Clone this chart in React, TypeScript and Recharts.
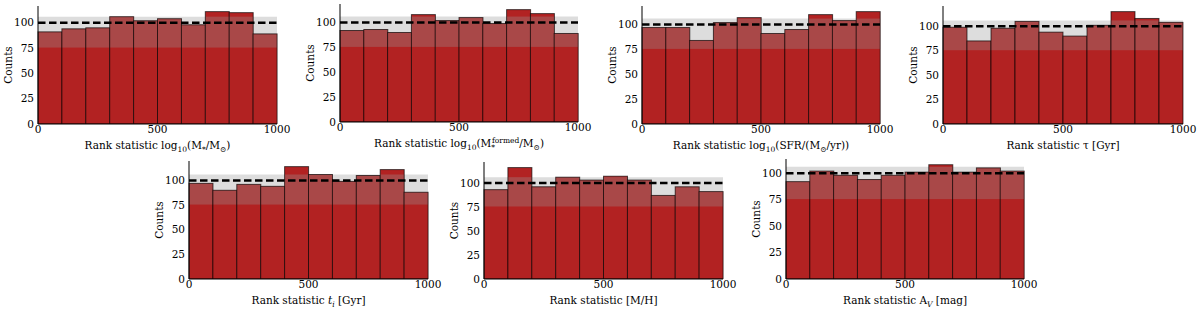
import React from 'react';
import { BarChart, Bar, XAxis, YAxis, ReferenceArea, ReferenceLine } from 'recharts';

// rank statistic bins (10 bins of width 100)
const binStarts = [0, 100, 200, 300, 400, 500, 600, 700, 800, 900];
const xTicks = [0, 500, 1000];
const yTicks = [0, 25, 50, 75, 100];

// counts per bin, one array per parameter
const massCounts = [91, 94, 95, 106, 102, 104, 98, 111, 110, 89];
const massFormedCounts = [92, 93, 90, 108, 102, 105, 99, 113, 109, 89];
const sfrCounts = [97, 97, 84, 102, 107, 91, 95, 110, 104, 113];
const tauCounts = [99, 85, 98, 105, 94, 90, 101, 115, 108, 104];
const tiCounts = [97, 90, 96, 94, 114, 106, 99, 105, 111, 88];
const metalCounts = [93, 116, 96, 106, 103, 107, 103, 87, 96, 91];
const avCounts = [92, 102, 98, 94, 98, 101, 108, 101, 105, 102];

// expected count and the grey spread band
const expected = 100;
const bandLow = 75.5;
const bandHigh = 106;

const FONT = '"DejaVu Serif", serif';
const FS = 10.5;
const YW = 40;
const MT = 2;
const MR = 14;
const XH = 32;
const BAND_FILL = '#999999';
const BAND_ALPHA = 0.33;

type Part = { t: string; s?: 'sub' | 'sup'; i?: boolean; dx?: number };

const XLabel = ({ viewBox, parts }: any) => {
  if (!viewBox) return null;
  const cx = viewBox.x + viewBox.width / 2;
  const y = viewBox.y + 25;
  let prev = 0;
  return (
    <text x={cx} y={y} textAnchor="middle" fontFamily={FONT} fontSize={FS} fill="#000">
      {parts.map((p: Part, k: number) => {
        const shift = p.s === 'sub' ? 3 : p.s === 'sup' ? -4.5 : 0;
        const dy = shift - prev;
        prev = shift;
        return (
          <tspan
            key={k}
            dy={dy}
            dx={p.dx || 0}
            fontSize={p.s ? 7.5 : FS}
            fontStyle={p.i ? 'italic' : 'normal'}
          >
            {p.t}
          </tspan>
        );
      })}
    </text>
  );
};

const YLabel = ({ viewBox }: any) => {
  if (!viewBox) return null;
  const cx = viewBox.x + 10;
  const cy = viewBox.y + viewBox.height / 2;
  return (
    <text
      transform={`translate(${cx},${cy}) rotate(-90)`}
      textAnchor="middle"
      dominantBaseline="central"
      fontFamily={FONT}
      fontSize={FS}
      fill="#000"
    >
      Counts
    </text>
  );
};

// bar with the grey band laid over it (band sits above the bars in the original)
const BandBar = (props: any) => {
  const { x, y, width, height, payload } = props;
  if (!height || height <= 0) return null;
  const count = payload.count;
  const perUnit = height / count;
  const base = y + height;
  const top = Math.max(y, base - bandHigh * perUnit);
  const bottom = Math.min(base, base - bandLow * perUnit);
  return (
    <g>
      <rect x={x} y={y} width={width} height={height} fill="#b22222" />
      {bottom > top && (
        <rect x={x} y={top} width={width} height={bottom - top} fill={BAND_FILL} fillOpacity={BAND_ALPHA} />
      )}
      <rect x={x} y={y} width={width} height={height} fill="none" stroke="rgba(0,0,0,0.65)" strokeWidth={1} />
    </g>
  );
};

const Panel = ({ counts, parts, box }: { counts: number[]; parts: Part[]; box: number[] }) => {
  const [px, py, pw, ph] = box;
  const data = counts.map((c, i) => ({ bin: i, x0: binStarts[i], count: c }));
  const ymax = Math.max(...counts) * 1.05;
  const tickStyle = { fill: '#000', fontSize: FS, fontFamily: FONT };
  return (
    <div style={{ position: 'absolute', left: px - YW, top: py - MT }}>
      <BarChart
        width={pw + YW + MR}
        height={ph + MT + XH}
        data={data}
        margin={{ top: MT, right: MR, left: 0, bottom: 0 }}
        barCategoryGap={0}
        barGap={0}
      >
        <XAxis xAxisId="cat" dataKey="bin" hide height={0} />
        <XAxis
          xAxisId="num"
          dataKey="x0"
          type="number"
          domain={[0, 1000]}
          ticks={xTicks}
          allowDataOverflow
          height={XH}
          tickSize={0}
          tickMargin={2}
          tickLine={false}
          axisLine={{ stroke: '#000', strokeWidth: 1 }}
          tick={tickStyle}
          label={<XLabel parts={parts} />}
        />
        <XAxis
          xAxisId="top"
          orientation="top"
          dataKey="x0"
          type="number"
          domain={[0, 1000]}
          height={0}
          tick={false}
          tickLine={false}
          axisLine={{ stroke: '#000', strokeWidth: 1 }}
        />
        <YAxis
          yAxisId="left"
          domain={[0, ymax]}
          ticks={yTicks}
          allowDataOverflow
          width={YW}
          tickSize={0}
          tickMargin={4}
          tickLine={false}
          axisLine={{ stroke: '#000', strokeWidth: 1 }}
          tick={tickStyle}
          label={<YLabel />}
        />
        <YAxis
          yAxisId="right"
          orientation="right"
          domain={[0, ymax]}
          width={0}
          tick={false}
          tickLine={false}
          axisLine={{ stroke: '#000', strokeWidth: 1 }}
        />
        <ReferenceArea
          xAxisId="num"
          yAxisId="left"
          y1={bandLow}
          y2={bandHigh}
          fill={BAND_FILL}
          fillOpacity={BAND_ALPHA}
          stroke="none"
        />
        <Bar
          xAxisId="cat"
          yAxisId="left"
          dataKey="count"
          fill="#b22222"
          shape={<BandBar />}
          isAnimationActive={false}
        />
        <ReferenceLine
          xAxisId="num"
          yAxisId="left"
          y={expected}
          stroke="#000"
          strokeWidth={2.5}
          strokeDasharray="7.5 3.5"
        />
      </BarChart>
    </div>
  );
};

const panels: { counts: number[]; parts: Part[]; box: number[] }[] = [
  {
    counts: massCounts,
    parts: [{ t: 'Rank statistic log' }, { t: '10', s: 'sub' }, { t: '(M' }, { t: '*', s: 'sub' }, { t: '/M' }, { t: '⊙', s: 'sub' }, { t: ')' }],
    box: [38, 6, 239, 118],
  },
  {
    counts: massFormedCounts,
    parts: [
      { t: 'Rank statistic log' }, { t: '10', s: 'sub' }, { t: '(M' }, { t: '*', s: 'sub' },
      { t: 'formed', s: 'sup', dx: -3 }, { t: '/M' }, { t: '⊙', s: 'sub' }, { t: ')' },
    ],
    box: [340, 4, 238, 118],
  },
  {
    counts: sfrCounts,
    parts: [{ t: 'Rank statistic log' }, { t: '10', s: 'sub' }, { t: '(SFR/(M' }, { t: '⊙', s: 'sub' }, { t: '/yr))' }],
    box: [642, 6, 238, 118],
  },
  {
    counts: tauCounts,
    parts: [{ t: 'Rank statistic τ [Gyr]' }],
    box: [943, 6, 240, 118],
  },
  {
    counts: tiCounts,
    parts: [{ t: 'Rank statistic ' }, { t: 't', i: true }, { t: 'i', s: 'sub', i: true }, { t: ' [Gyr]' }],
    box: [189, 161, 239, 118],
  },
  {
    counts: metalCounts,
    parts: [{ t: 'Rank statistic [M/H]' }],
    box: [484, 162, 239, 117],
  },
  {
    counts: avCounts,
    parts: [{ t: 'Rank statistic A' }, { t: 'V', s: 'sub', i: true }, { t: ' [mag]' }],
    box: [786, 159, 238, 120],
  },
];

export default function App() {
  return (
    <div style={{ position: 'absolute', left: 0, top: 0, width: 1200, height: 309, background: '#fff', overflow: 'hidden' }}>
      {panels.map((p, k) => (
        <Panel key={k} counts={p.counts} parts={p.parts} box={p.box} />
      ))}
    </div>
  );
}
